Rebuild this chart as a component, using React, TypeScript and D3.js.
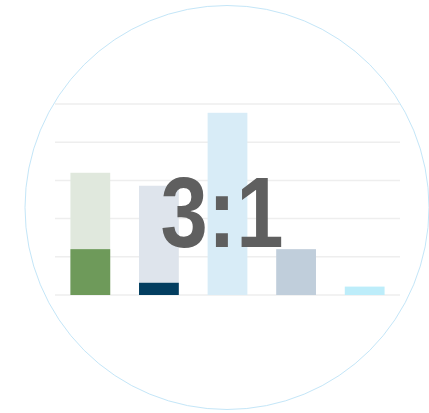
import React from "react";
import * as d3 from "d3";

const categories = ["A", "B", "C", "D", "E"];
const totalValues = [32, 28.6, 47.7, 12, 2.2];
const highlightValues = [12, 3.2, 0, 0, 0];
const totalColors = ["#e0e8dd", "#dee4ec", "#d8ecf7", "#c0cedb", "#bdedfa"];
const highlightColors = ["#6e9a5a", "#033e60", "#d8ecf7", "#c0cedb", "#bdedfa"];
const yTicks = [0, 10, 20, 30, 40, 50];
const ratioLabel = "3:1";

const W = 429;
const H = 413;

export default function App() {
  const x = d3
    .scaleBand<string>()
    .domain(categories)
    .range([55, 400])
    .paddingInner(0.42)
    .paddingOuter(0.225);
  const y = d3.scaleLinear().domain([0, 50]).range([295, 104]);

  return (
    <svg
      width={W}
      height={H}
      style={{ position: "absolute", left: 0, top: 0, background: "#fff" }}
    >
      <circle cx={227} cy={207.5} r={202} fill="#fff" stroke="#c4e6f8" strokeWidth={1} />
      {yTicks.map((t) => (
        <line
          key={t}
          x1={55}
          x2={400}
          y1={y(t)}
          y2={y(t)}
          stroke="#eeeeee"
          strokeWidth={1.5}
        />
      ))}
      {categories.map((c, i) => (
        <g key={c}>
          <rect
            x={x(c)}
            width={x.bandwidth()}
            y={y(totalValues[i])}
            height={y(0) - y(totalValues[i])}
            fill={totalColors[i]}
          />
          {highlightValues[i] > 0 && (
            <rect
              x={x(c)}
              width={x.bandwidth()}
              y={y(highlightValues[i])}
              height={y(0) - y(highlightValues[i])}
              fill={highlightColors[i]}
            />
          )}
        </g>
      ))}
      <text
        transform="translate(222,246.5) scale(0.85,1)"
        textAnchor="middle"
        fontFamily="'Liberation Sans', Arial, sans-serif"
        fontWeight="bold"
        fontSize={100}
        fill="#5f5f5f"
      >
        {ratioLabel}
      </text>
    </svg>
  );
}
